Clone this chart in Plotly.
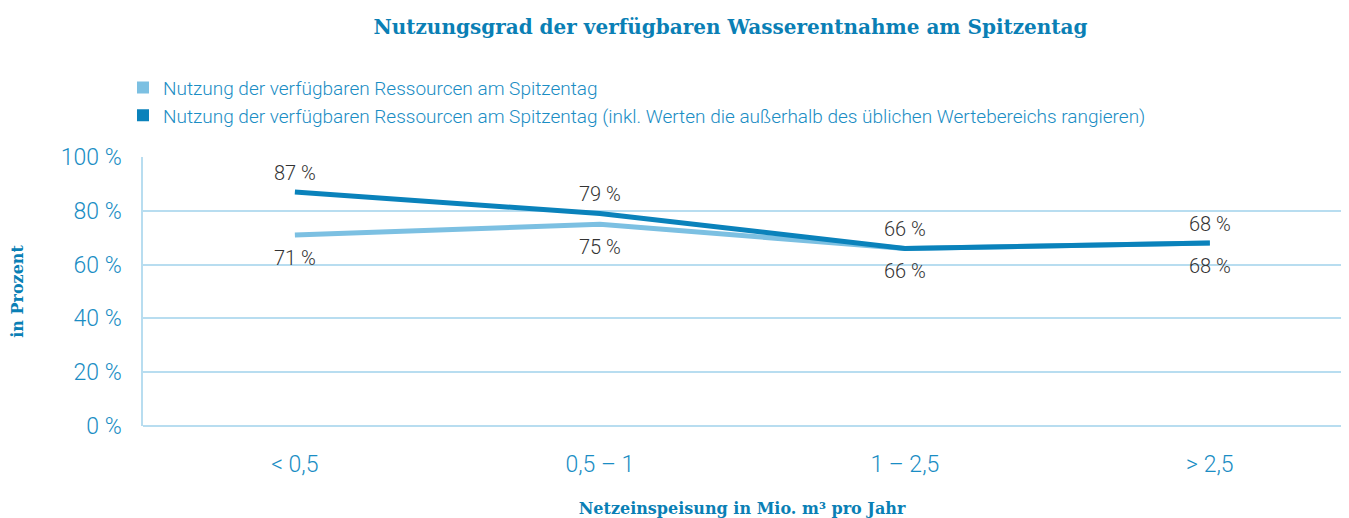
import plotly.graph_objects as go

categories = ["< 0,5", "0,5 – 1", "1 – 2,5", "> 2,5"]
series_light = [71, 75, 66, 68]
series_dark = [87, 79, 66, 68]
name_light = "Nutzung der verfügbaren Ressourcen am Spitzentag"
name_dark = "Nutzung der verfügbaren Ressourcen am Spitzentag (inkl. Werten die außerhalb des üblichen Wertebereichs rangieren)"
y_ticks = [0, 20, 40, 60, 80, 100]
y_tick_labels = ["0 %", "20 %", "40 %", "60 %", "80 %", "100 %"]

C_LIGHT = "#7cc0e2"
C_DARK = "#0a82bb"
C_TEXT = "#1a8dc4"
C_TITLE = "#0a7fb5"
C_GRID = "#b8ddf0"
SANS = "Roboto, Open Sans, sans-serif"
SERIF = "DejaVu Serif, Liberation Serif, serif"

fig = go.Figure()
fig.add_trace(go.Scatter(
    x=categories, y=series_light, mode="lines+markers+text", showlegend=False,
    line=dict(color=C_LIGHT, width=5),
    marker=dict(size=22, color="rgba(0,0,0,0)"),
    text=[f"{v} %" for v in series_light], textposition="bottom center",
    textfont=dict(family=SANS, size=20, color="#333333", weight=300),
))
fig.add_trace(go.Scatter(
    x=categories, y=series_dark, mode="lines+markers+text", showlegend=False,
    line=dict(color=C_DARK, width=5),
    marker=dict(size=10, color="rgba(0,0,0,0)"),
    text=[f"{v} %" for v in series_dark], textposition="top center",
    textfont=dict(family=SANS, size=20, color="#333333", weight=300),
))
fig.add_trace(go.Scatter(
    x=[None], y=[None], mode="markers", name=name_light, legendgroup="a",
    marker=dict(symbol="square", size=14, color=C_LIGHT),
))
fig.add_trace(go.Scatter(
    x=[None], y=[None], mode="markers", name=name_dark, legendgroup="b",
    marker=dict(symbol="square", size=14, color=C_DARK),
))

fig.update_layout(
    width=1333, height=510,
    margin=dict(l=135, r=0, t=149, b=92),
    paper_bgcolor="white", plot_bgcolor="rgba(0,0,0,0)",
    title=dict(
        text="<b>Nutzungsgrad der verfügbaren Wasserentnahme am Spitzentag</b>",
        x=0.542, xanchor="center", yref="container", y=1 - 19 / 510, yanchor="middle",
        font=dict(family=SERIF, size=20, color=C_TITLE),
    ),
    legend=dict(
        x=-0.0167, xanchor="left", y=1.328, yanchor="top",
        font=dict(family=SANS, size=19, color=C_TEXT, weight=300),
        tracegroupgap=7, itemsizing="constant",
        bgcolor="rgba(0,0,0,0)", traceorder="normal",
    ),
    xaxis=dict(
        type="category", range=[-0.498, 3.43], automargin=True,
        showgrid=False, zeroline=False, showline=False,
        ticks="", tickfont=dict(family=SANS, size=23, color=C_TEXT, weight=300),
        ticklabelstandoff=22,
        title=dict(text="<b>Netzeinspeisung in Mio. m³ pro Jahr</b>",
                   font=dict(family=SERIF, size=16, color=C_TITLE), standoff=28),
    ),
    yaxis=dict(
        range=[0, 100], tickvals=y_ticks, ticktext=y_tick_labels, automargin=False,
        showgrid=True, gridcolor=C_GRID, gridwidth=1.5,
        zeroline=True, zerolinecolor=C_GRID, zerolinewidth=1.5,
        showline=True, linecolor=C_GRID, linewidth=1.5,
        ticks="", ticklabelstandoff=15,
        tickfont=dict(family=SANS, size=23, color=C_TEXT, weight=300),
        title=dict(text="<b>in Prozent</b>",
                   font=dict(family=SERIF, size=16, color=C_TITLE), standoff=33),
    ),
)

fig.write_html("out.html")
